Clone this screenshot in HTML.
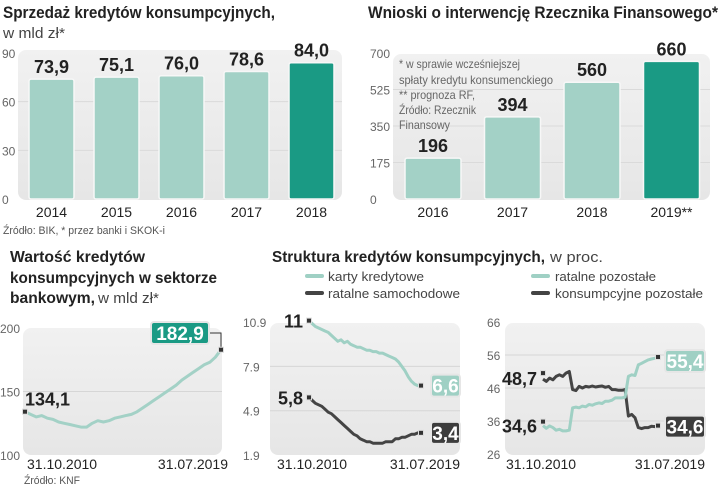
<!DOCTYPE html>
<html><head><meta charset="utf-8">
<style>
html,body{margin:0;padding:0;background:#fff;}
svg{display:block;font-family:"Liberation Sans Narrow","Liberation Sans",sans-serif;}
</style></head>
<body>
<svg id="s" width="720" height="490" viewBox="0 0 720 490" xmlns="http://www.w3.org/2000/svg">
<defs>
<linearGradient id="bg" x1="0" y1="0" x2="0" y2="1"><stop offset="0" stop-color="#f1f1f1"/><stop offset="1" stop-color="#e6e6e6"/></linearGradient>
</defs>
<text x="3" y="18" font-size="17" font-weight="bold" fill="#222" textLength="272" lengthAdjust="spacingAndGlyphs">Sprzedaż kredytów konsumpcyjnych,</text>
<text x="3" y="38" font-size="15" fill="#444" textLength="62" lengthAdjust="spacingAndGlyphs">w mld zł*</text>
<text x="3" y="234" font-size="11" fill="#555" textLength="162" lengthAdjust="spacingAndGlyphs">Źródło: BIK, * przez banki i SKOK-i</text>
<text x="368" y="18" font-size="17" font-weight="bold" fill="#222" textLength="350" lengthAdjust="spacingAndGlyphs">Wnioski o interwencję Rzecznika Finansowego*</text>
<text x="10" y="262" font-size="16" font-weight="bold" fill="#222" textLength="135" lengthAdjust="spacingAndGlyphs">Wartość kredytów</text>
<text x="10" y="283" font-size="16" font-weight="bold" fill="#222" textLength="207" lengthAdjust="spacingAndGlyphs">konsumpcyjnych w sektorze</text>
<text x="10" y="303" font-size="16" font-weight="bold" fill="#222" textLength="85" lengthAdjust="spacingAndGlyphs">bankowym,</text>
<text x="98" y="303" font-size="15" fill="#444" textLength="61" lengthAdjust="spacingAndGlyphs">w mld zł*</text>
<text x="24" y="484" font-size="11" fill="#555" textLength="56" lengthAdjust="spacingAndGlyphs">Źródło: KNF</text>
<text x="272" y="262" font-size="16" font-weight="bold" fill="#222" textLength="273" lengthAdjust="spacingAndGlyphs">Struktura kredytów konsumpcyjnych,</text>
<text x="550" y="262" font-size="15" fill="#444" textLength="53" lengthAdjust="spacingAndGlyphs">w proc.</text>
<g>
<line x1="307" y1="276" x2="322" y2="276" stroke="#9fd0c4" stroke-width="4" stroke-linecap="round"/>
<text x="328" y="281" font-size="13" fill="#444" textLength="96" lengthAdjust="spacingAndGlyphs">karty kredytowe</text>
<line x1="307" y1="293" x2="322" y2="293" stroke="#444" stroke-width="4" stroke-linecap="round"/>
<text x="328" y="298" font-size="13" fill="#444" textLength="132" lengthAdjust="spacingAndGlyphs">ratalne samochodowe</text>
<line x1="533" y1="276" x2="548" y2="276" stroke="#9fd0c4" stroke-width="4" stroke-linecap="round"/>
<text x="555" y="281" font-size="13" fill="#444" textLength="101" lengthAdjust="spacingAndGlyphs">ratalne pozostałe</text>
<line x1="533" y1="293" x2="548" y2="293" stroke="#444" stroke-width="4" stroke-linecap="round"/>
<text x="555" y="298" font-size="13" fill="#444" textLength="148" lengthAdjust="spacingAndGlyphs">konsumpcyjne pozostałe</text>
</g>
<g id="c1"></g>
<g id="c2"></g>
<g id="c3"></g>
<g id="c4"></g>
<g id="c5"></g>
<g font-size="12" fill="#666">
<text x="399" y="68" textLength="121" lengthAdjust="spacingAndGlyphs">* w sprawie wcześniejszej</text>
<text x="399" y="84" textLength="154" lengthAdjust="spacingAndGlyphs">spłaty kredytu  konsumenckiego</text>
<text x="399" y="99" textLength="76" lengthAdjust="spacingAndGlyphs">** prognoza RF,</text>
<text x="399" y="114" textLength="77" lengthAdjust="spacingAndGlyphs">Źródło: Rzecznik</text>
<text x="399" y="129" textLength="51" lengthAdjust="spacingAndGlyphs">Finansowy</text>
</g>
</svg>
<script>
const salesYears = ["2014","2015","2016","2017","2018"];
const salesValues = [73.9, 75.1, 76.0, 78.6, 84.0];
const salesLabels = ["73,9","75,1","76,0","78,6","84,0"];
const salesTicks = [0, 30, 60, 90];
const complaintYears = ["2016","2017","2018","2019**"];
const complaintValues = [196, 394, 560, 660];
const complaintTicks = [0, 175, 350, 525, 700];
const knfValues = [134.1,132,130,131,129,128,126,125,124,123,122,122,125,127,126,127,129,130,131,132,134,137,140,143,146,149,152,155,159,162,165,168,171,173,177,182.9];
const knfTicks = [100, 150, 200];
const kartyValues = [11,10.8,10.6,10.5,10.4,10.3,10.2,10.0,9.8,9.6,9.7,9.5,9.6,9.4,9.3,9.2,9.2,9.1,9.0,9.0,8.9,8.9,8.8,8.8,8.7,8.6,8.5,8.4,8.2,7.9,7.6,7.2,6.9,6.7,6.6,6.6];
const samochodoweValues = [5.8,5.6,5.4,5.3,5.2,5.0,4.8,4.7,4.5,4.3,4.1,3.9,3.7,3.5,3.3,3.2,3.0,2.9,2.8,2.8,2.7,2.7,2.7,2.7,2.8,2.8,2.8,3.0,3.0,3.1,3.1,3.2,3.3,3.3,3.4,3.4];
const leftTicks = [1.9, 4.9, 7.9, 10.9];
const konsumpcyjneValues = [48.7,48.0,49.0,48.5,49.5,50.0,49.5,50.5,51.0,45.5,45.2,46.5,46.0,46.5,46.3,46.6,46.3,46.5,46.6,46.2,46.5,45.5,45.5,45.3,45.3,45.5,37.5,38.0,37.0,34.0,33.7,34.0,34.0,34.4,34.3,34.6];
const ratalneValues = [34.6,33.8,34.5,34.0,33.2,33.5,33.0,33.0,33.2,40.0,40.2,40.0,40.5,40.3,41.0,40.8,41.2,41.5,41.3,42.0,42.0,42.3,43.0,43.0,43.0,43.2,49.5,50.0,49.8,53.0,53.5,54.0,54.5,54.8,55.0,55.4];
const rightTicks = [26, 36, 46, 56, 66];
const dateLabels = ["31.10.2010","31.07.2019"];

const NS = "http://www.w3.org/2000/svg";
function mk(parent, tag, attrs, txt){
  const e = document.createElementNS(NS, tag);
  for (const k in attrs) e.setAttribute(k, attrs[k]);
  if (txt !== undefined) e.textContent = txt;
  parent.appendChild(e);
  return e;
}
const fmt = v => String(v).replace('.', ',');

(function(){
  const g = document.getElementById('c1');
  const y = v => 199 - v * 146 / 90;
  const x = i => 29 + i * 65;
  const bg = mk(g,'rect',{x:18,y:50,width:324,height:150,rx:8,fill:'url(#bg)'});
  
  
  salesTicks.forEach(t=>{
    if (t>0 && t<90){
      const l = mk(g,'line',{x1:18,x2:342,y1:y(t),y2:y(t),stroke:'#dadada','stroke-width':1});
      
      
    }
    const tx = mk(g,'text',{x:2,y:y(t)+5,'font-size':12,fill:'#666'},String(t));
    
    
  });
  salesValues.forEach((v,i)=>{
    const last = i === salesValues.length-1;
    const b = mk(g,'rect',{x:x(i),y:y(v),width:45,height:y(0)-y(v),rx:2,fill:last?'#1a9a84':'#a3d1c6',stroke:'#f7f7f7','stroke-width':1.5});
    
    
    const lb = mk(g,'text',{x:x(i)+22.5,y:y(v)-6,'font-size':18,'font-weight':'bold',fill:'#222','text-anchor':'middle'},salesLabels[i]);
    
    
    const xl = mk(g,'text',{x:x(i)+22.5,y:217,'font-size':14,fill:'#222','text-anchor':'middle'},salesYears[i]);
    
    
  });
})();

(function(){
  const g = document.getElementById('c2');
  const y = v => 199 - v * 146 / 700;
  const x = i => 405 + i * 79.5;
  const bg = mk(g,'rect',{x:393,y:54,width:317,height:146,rx:8,fill:'url(#bg)'});
  
  
  complaintTicks.forEach(t=>{
    if (t>0 && t<700){
      const l = mk(g,'line',{x1:393,x2:710,y1:y(t),y2:y(t),stroke:'#dadada','stroke-width':1});
      
      
    }
    const tx = mk(g,'text',{x:370,y:y(t)+5,'font-size':12,fill:'#666'},String(t));
    
    
  });
  complaintValues.forEach((v,i)=>{
    const last = i === complaintValues.length-1;
    const b = mk(g,'rect',{x:x(i),y:y(v),width:56,height:y(0)-y(v),rx:2,fill:last?'#1a9a84':'#a3d1c6',stroke:'#f7f7f7','stroke-width':1.5});
    
    
    const lb = mk(g,'text',{x:x(i)+28,y:y(v)-6,'font-size':18,'font-weight':'bold',fill:'#222','text-anchor':'middle'},String(v));
    
    
    const xl = mk(g,'text',{x:x(i)+28,y:217,'font-size':14,fill:'#222','text-anchor':'middle'},complaintYears[i]);
    
    
  });
})();

function linePath(vals, x0, x1, y){
  const n = vals.length;
  return vals.map((v,i)=>(i?'L':'M')+(x0+(x1-x0)*i/(n-1)).toFixed(1)+','+y(v).toFixed(1)).join(' ');
}
function dot(g, cx, cy, name){
  const r = mk(g,'rect',{x:cx-2.5,y:cy-2.5,width:5,height:5,fill:'#333',stroke:'#ddd','stroke-width':1});
  
  
}
function box(g, x, yC, w, text, fill, stroke, name){
  const r = mk(g,'rect',{x:x,y:yC-11,width:w,height:22,rx:3,fill:fill,stroke:stroke,'stroke-width':2});
  
  
  const t = mk(g,'text',{x:x+w/2,y:yC+7,'font-size':19,'font-weight':'bold',fill:'#fff','text-anchor':'middle'},text);
  
  
}
function plotFrame(g, x0, x1, top, bottom, ticks, y, tickX, pfx){
  const bg = mk(g,'rect',{x:x0,y:top,width:x1-x0,height:bottom-top,rx:8,fill:'url(#bg)'});
  
  
  ticks.forEach((t,i)=>{
    if (i>0 && i<ticks.length-1){
      const l = mk(g,'line',{x1:x0,x2:x1,y1:y(t),y2:y(t),stroke:'#d6d6d6','stroke-width':1});
      
      
    }
    const tx = mk(g,'text',{x:tickX,y:y(t)+5,'font-size':12,fill:'#666'},String(t));
    
    
  });
}
function dates(g, xa, xb, pfx){
  const a = mk(g,'text',{x:xa,y:469,'font-size':14,fill:'#222'},dateLabels[0]);
  
  
  const b = mk(g,'text',{x:xb,y:469,'font-size':14,fill:'#222','text-anchor':'end'},dateLabels[1]);
  
  
}

(function(){
  const g = document.getElementById('c3');
  const y = v => 455 - (v-100) * 1.27;
  plotFrame(g, 23, 222, 328, 455, knfTicks, y, 0, 'value');
  const x0 = 25, x1 = 221;
  const p = mk(g,'path',{d:linePath(knfValues,x0,x1,y),fill:'none',stroke:'#a3d1c6','stroke-width':3,'stroke-linejoin':'round'});
  
  
  const v0 = knfValues[0], vN = knfValues[knfValues.length-1];
  dot(g, x0, y(v0), 'value-start-marker');
  dot(g, x1, y(vN), 'value-end-marker');
  const c = mk(g,'path',{d:'M210,333 H221 V'+(y(vN)-3),fill:'none',stroke:'#333','stroke-width':1});
  
  
  const s = mk(g,'text',{x:25,y:y(v0)-6,'font-size':18,'font-weight':'bold',fill:'#222'},fmt(v0));
  
  
  box(g, 151, 333, 58, fmt(vN), '#1a9a84', '#e6e6e6', 'value-end-label');
  dates(g, 27, 228, 'value');
})();

(function(){
  const g = document.getElementById('c4');
  const y = v => 455 - (v-1.9) * 44.3 / 3;
  plotFrame(g, 270, 460, 323, 455, leftTicks, y, 243, 'structure-left');
  const x0 = 309, x1 = 421;
  const a = mk(g,'path',{d:linePath(kartyValues,x0,x1,y),fill:'none',stroke:'#9fd0c4','stroke-width':3,'stroke-linejoin':'round'});
  
  
  const b = mk(g,'path',{d:linePath(samochodoweValues,x0,x1,y),fill:'none',stroke:'#444','stroke-width':3,'stroke-linejoin':'round'});
  
  
  const k0 = kartyValues[0], kN = kartyValues[kartyValues.length-1];
  const s0 = samochodoweValues[0], sN = samochodoweValues[samochodoweValues.length-1];
  dot(g, x0, y(k0), 'karty-start-marker');
  dot(g, x0, y(s0), 'samochodowe-start-marker');
  dot(g, x1, y(kN), 'karty-end-marker');
  dot(g, x1, y(sN), 'samochodowe-end-marker');
  const t1 = mk(g,'text',{x:x0-6,y:y(k0)+7,'font-size':18,'font-weight':'bold',fill:'#222','text-anchor':'end'},fmt(k0));
  
  
  const t2 = mk(g,'text',{x:x0-6,y:y(s0)+7,'font-size':18,'font-weight':'bold',fill:'#222','text-anchor':'end'},fmt(s0));
  
  
  box(g, 431, y(kN), 29, fmt(kN), '#9fd0c4', '#e6e6e6', 'karty-end-label');
  box(g, 431, y(sN), 29, fmt(sN), '#3d3d3d', '#e6e6e6', 'samochodowe-end-label');
  dates(g, 277, 460, 'structure-left');
})();

(function(){
  const g = document.getElementById('c5');
  const y = v => 454 - (v-26) * 3.3;
  plotFrame(g, 505, 705, 323, 455, rightTicks, y, 487, 'structure-right');
  const x0 = 543, x1 = 658;
  const a = mk(g,'path',{d:linePath(konsumpcyjneValues,x0,x1,y),fill:'none',stroke:'#444','stroke-width':3,'stroke-linejoin':'round'});
  
  
  const b = mk(g,'path',{d:linePath(ratalneValues,x0,x1,y),fill:'none',stroke:'#9fd0c4','stroke-width':3,'stroke-linejoin':'round'});
  
  
  const k0 = konsumpcyjneValues[0], kN = konsumpcyjneValues[konsumpcyjneValues.length-1];
  const r0 = ratalneValues[0], rN = ratalneValues[ratalneValues.length-1];
  dot(g, x0, y(k0)-6, 'konsumpcyjne-start-marker');
  dot(g, x0, y(r0)-4, 'ratalne-start-marker');
  dot(g, x1, y(kN), 'konsumpcyjne-end-marker');
  dot(g, x1, y(rN), 'ratalne-end-marker');
  const t1 = mk(g,'text',{x:x0-6,y:y(k0)+6,'font-size':18,'font-weight':'bold',fill:'#222','text-anchor':'end'},fmt(k0));
  
  
  const t2 = mk(g,'text',{x:x0-6,y:y(r0)+7,'font-size':18,'font-weight':'bold',fill:'#222','text-anchor':'end'},fmt(r0));
  
  
  box(g, 665, y(rN)+4, 40, fmt(rN), '#9fd0c4', '#e6e6e6', 'ratalne-end-label');
  box(g, 665, y(kN)+1, 40, fmt(kN), '#3d3d3d', '#e6e6e6', 'konsumpcyjne-end-label');
  dates(g, 506, 705, 'structure-right');
})();
</script>
</body></html>
